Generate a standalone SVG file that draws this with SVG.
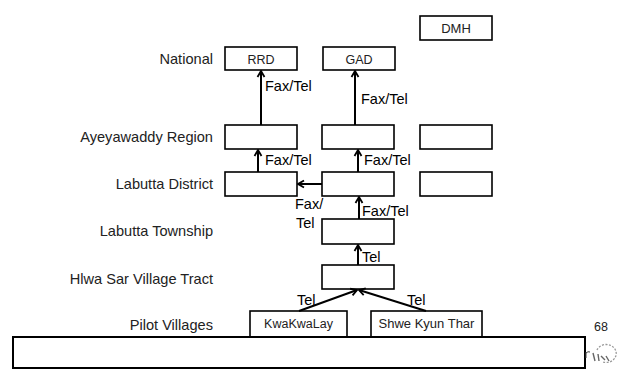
<svg xmlns="http://www.w3.org/2000/svg" width="621" height="370" viewBox="0 0 621 370">
<defs>
<marker id="ah" viewBox="0 0 10 10" refX="9" refY="5" markerWidth="10" markerHeight="10" markerUnits="userSpaceOnUse" orient="auto">
<polyline points="3,1.5 9,5 3,8.5" fill="none" stroke="#000" stroke-width="1.8"/>
</marker>
<style>
.box{fill:#fff;stroke:#000;stroke-width:1.6}
.lvl{font-family:"Liberation Sans",Arial,sans-serif;font-size:14.6px;fill:#222;text-anchor:end}
.in{font-family:"Liberation Sans",Arial,sans-serif;font-size:12.5px;fill:#222;text-anchor:middle}
.lab{font-family:"Liberation Sans",Arial,sans-serif;font-size:14.5px;fill:#000}
.con{stroke:#000;stroke-width:2;fill:none;marker-end:url(#ah)}
</style>
</defs>
<rect width="621" height="370" fill="#fff"/>
<g id="levels">
<text class="lvl" x="213" y="64">National</text>
<text class="lvl" x="213" y="142">Ayeyawaddy Region</text>
<text class="lvl" x="213" y="189">Labutta District</text>
<text class="lvl" x="213" y="236">Labutta Township</text>
<text class="lvl" x="213" y="284">Hlwa Sar Village Tract</text>
<text class="lvl" x="213" y="330">Pilot Villages</text>
</g>
<g id="dmh"><rect class="box" x="420" y="16" width="72" height="24"/><text class="in" x="456" y="33" style="font-size:13px">DMH</text></g>
<g id="rrd"><rect class="box" x="225" y="47" width="72" height="23"/><text class="in" x="261" y="64">RRD</text></g>
<g id="gad"><rect class="box" x="323" y="47" width="72" height="23"/><text class="in" x="359" y="64">GAD</text></g>
<g id="region1"><rect class="box" x="225" y="125" width="72" height="24"/></g>
<g id="region2"><rect class="box" x="322" y="125" width="72" height="24"/></g>
<g id="region3"><rect class="box" x="420" y="125" width="72" height="24"/></g>
<g id="district1"><rect class="box" x="225" y="172" width="72" height="24"/></g>
<g id="district2"><rect class="box" x="322" y="172" width="72" height="24"/></g>
<g id="district3"><rect class="box" x="420" y="172" width="72" height="24"/></g>
<g id="township"><rect class="box" x="322" y="219" width="72" height="25"/></g>
<g id="tract"><rect class="box" x="322" y="265" width="72" height="24"/></g>
<g id="kwakwalay"><rect class="box" x="250" y="311" width="97" height="27"/><text class="in" x="298.5" y="328">KwaKwaLay</text></g>
<g id="shwe"><rect class="box" x="371" y="311" width="111" height="27"/><text class="in" x="426.5" y="328" style="font-size:13px">Shwe Kyun Thar</text></g>
<g id="connectors">
<line class="con" x1="261" y1="125" x2="261" y2="71"/>
<line class="con" x1="355" y1="125" x2="355" y2="71"/>
<line class="con" x1="258" y1="172" x2="258" y2="150"/>
<line class="con" x1="358" y1="172" x2="358" y2="150"/>
<line class="con" x1="322" y1="184" x2="298" y2="184"/>
<line class="con" x1="359" y1="219" x2="359" y2="197"/>
<line class="con" x1="358" y1="265" x2="358" y2="245"/>
<line class="con" x1="299" y1="311" x2="357" y2="290"/>
<line class="con" x1="426" y1="311" x2="359" y2="290"/>
<text class="lab" x="265" y="91">Fax/Tel</text>
<text class="lab" x="361" y="104">Fax/Tel</text>
<text class="lab" x="265" y="165">Fax/Tel</text>
<text class="lab" x="364" y="165">Fax/Tel</text>
<text class="lab" x="295" y="209">Fax/</text>
<text class="lab" x="296" y="228">Tel</text>
<text class="lab" x="362" y="216">Fax/Tel</text>
<text class="lab" x="362" y="262">Tel</text>
<text class="lab" x="297" y="305">Tel</text>
<text class="lab" x="407" y="305">Tel</text>
</g>
<g id="footer">
<rect x="13" y="337" width="572" height="31" fill="#fff" stroke="#000" stroke-width="2"/>
<text x="594" y="331" font-family="Liberation Sans, Arial, sans-serif" font-size="12.5" fill="#222">68</text>
<path d="M597 350 a10 9 0 1 1 6 12" fill="none" stroke="#999" stroke-width="1.3" stroke-dasharray="2 1.5"/>
<path d="M593 353 l2 8 M598 354 l1 7 M601 356 l4 4 M606 356 l3 5" stroke="#666" stroke-width="1.4" fill="none"/>
<path d="M586 352 l0 6 M586 353 q2 -2 4 -1" stroke="#444" stroke-width="1" fill="none"/>
</g>
</svg>
